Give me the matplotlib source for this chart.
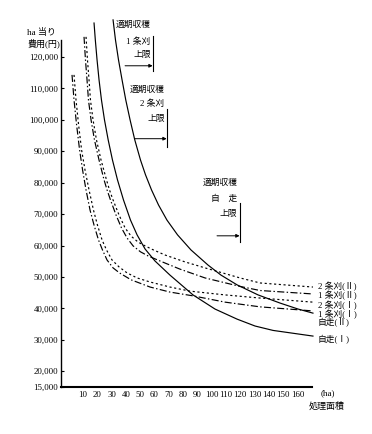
import matplotlib
matplotlib.use("Agg")
import matplotlib.pyplot as plt

# ---- data ----
ha_jisou1 = [17.7, 18.6, 19.8, 21.2, 22.9, 25.0, 27.6, 30.6, 34.1, 38.3, 43.2, 47.8, 53.4, 60.3,
             70.8, 86.9, 102.3, 117.7, 130.3, 142.9, 170.8]
cost_jisou1 = [130800, 125400, 119100, 112700, 106300, 100000, 93600, 87200, 80900, 74500, 68100,
               63400, 58900, 55100, 50600, 44300, 39800, 36600, 34400, 33000, 31200]

ha_jisou2 = [31.0, 32.7, 34.8, 37.3, 39.9, 42.9, 46.2, 50.2, 53.7, 57.9, 62.8, 68.7, 76.1, 85.5,
             97.4, 106.5, 117.7, 132.4, 147.8, 160.4, 170.8]
cost_jisou2 = [131800, 125400, 119100, 112700, 106300, 100000, 93600, 87200, 82500, 77700, 72900,
               68100, 63400, 58600, 53800, 50600, 47500, 44300, 41700, 39800, 38500]

ha_1jo1 = [2.3, 3.7, 5.5, 7.6, 9.7, 12.1, 14.9, 17.7, 20.8, 23.6, 26.8, 31.0, 35.5, 43.6, 56.9,
           70.8, 86.9, 109.3, 133.8, 170.8]
cost_1jo1 = [114300, 106300, 98400, 90400, 84000, 77700, 71300, 66500, 61800, 58600, 55400, 52900,
             51300, 49100, 46800, 45200, 44000, 42000, 40500, 39200]

ha_2jo1 = [3.7, 5.1, 6.9, 9.0, 11.4, 14.2, 17.3, 20.1, 23.3, 26.4, 30.3, 35.2, 40.8, 47.8, 56.9,
           70.8, 84.8, 109.3, 133.8, 170.8]
cost_2jo1 = [114300, 106300, 98400, 90400, 84000, 77700, 71300, 66500, 61800, 58600, 55400, 53200,
             51300, 49700, 48400, 46800, 45500, 44300, 43300, 42000]

ha_1jo2 = [10.7, 11.7, 12.8, 13.8, 15.6, 18.0, 21.2, 24.7, 26.8, 29.2, 33.1, 36.9, 40.8, 45.0,
           50.2, 55.5, 63.8, 77.8, 95.3, 119.8, 133.8, 170.8]
cost_1jo2 = [126400, 119100, 112700, 106300, 100000, 93600, 87200, 80900, 77700, 74500, 69700,
             65600, 62400, 59900, 58000, 56700, 55100, 52500, 49700, 47000, 45700, 44600]

ha_2jo2 = [12.1, 13.1, 14.2, 15.2, 17.0, 19.4, 22.6, 26.4, 28.5, 31.0, 35.2, 39.4, 43.6, 48.5,
           53.4, 58.3, 67.3, 81.3, 95.3, 119.8, 133.8, 170.8]
cost_2jo2 = [126400, 119100, 112700, 106300, 100000, 93600, 87200, 80900, 77700, 74500, 69700,
             65600, 63000, 61100, 59900, 58800, 57000, 54800, 52900, 49700, 48100, 46800]

series_labels = ["2 条刈(Ⅱ)", "1 条刈(Ⅱ)", "2 条刈(Ⅰ)", "1 条刈(Ⅰ)", "自走(Ⅱ)", "自走(Ⅰ)"]
label_y = [46900, 44100, 40900, 38200, 35600, 30000]

x_ticks = list(range(10, 170, 10))
y_ticks = [15000, 20000, 30000, 40000, 50000, 60000, 70000, 80000, 90000, 100000, 110000, 120000]
y_ticklabels = ["15,000", "20,000", "30,000", "40,000", "50,000", "60,000", "70,000",
                "80,000", "90,000", "100,000", "110,000", "120,000"]

FAM = ["Liberation Serif", "Noto Sans CJK JP", "DejaVu Sans"]
plt.rcParams["font.family"] = FAM

fig = plt.figure(figsize=(3.72, 4.34), dpi=100)
ax = fig.add_axes([0.1640, 0.1083, 0.7511, 0.8763])
ax.set_xlim(-5.4, 190)
ax.set_ylim(15000, 136000)

DASHDOT = (0, (6, 2, 1.2, 2))
DOTTED = (0, (1.8, 2.2))
lw = 0.85
ax.plot(ha_jisou1, cost_jisou1, color="black", lw=lw, ls="-", clip_on=False)
ax.plot(ha_jisou2, cost_jisou2, color="black", lw=lw, ls="-", clip_on=False)
ax.plot(ha_1jo1, cost_1jo1, color="black", lw=lw, ls=DASHDOT, clip_on=False)
ax.plot(ha_2jo1, cost_2jo1, color="black", lw=lw, ls=DOTTED, clip_on=False)
ax.plot(ha_1jo2, cost_1jo2, color="black", lw=lw, ls=DASHDOT, clip_on=False)
ax.plot(ha_2jo2, cost_2jo2, color="black", lw=lw, ls=DOTTED, clip_on=False)

for lab, yv in zip(series_labels, label_y):
    ax.text(174.0, yv, lab, fontsize=6.3, ha="left", va="center", family=FAM, clip_on=False)

# axes styling
for s in ("top", "right"):
    ax.spines[s].set_visible(False)
ax.spines["left"].set_bounds(15000, 125400)
ax.spines["left"].set_linewidth(1.0)
ax.spines["bottom"].set_bounds(-5.4, 170)
ax.spines["bottom"].set_linewidth(1.5)

ax.set_xticks(x_ticks)
ax.set_xticklabels([str(t) for t in x_ticks])
ax.set_yticks(y_ticks)
ax.set_yticklabels(y_ticklabels)
ax.tick_params(axis="x", length=0, pad=3, labelsize=6.3)
ax.tick_params(axis="y", length=2, direction="in", pad=2, labelsize=6.3)

# axis titles
ax.text(-9.0, 127700, "ha 当り", fontsize=6.5, ha="right", va="center", family=FAM, clip_on=False)
ax.text(-5.8, 124500, "費用(円)", fontsize=6.5, ha="right", va="center", family=FAM, clip_on=False)
ax.text(176.0, 13000, "(ha)", fontsize=6.5, ha="left", va="center", family=FAM, clip_on=False)
ax.text(193.0, 8800, "処理面積", fontsize=6.5, ha="right", va="center", family=FAM, clip_on=False)

# upper-limit annotations
def block(title, sub, x_bar, y_title, y_sub, y_lim, y_bar_top, y_bar_bot, y_arrow, x_arrow0):
    ax.text(x_bar - 1.8, y_title, title, fontsize=6.3, ha="right", va="center", family=FAM)
    ax.text(x_bar - 1.8, y_sub, sub, fontsize=6.3, ha="right", va="center", family=FAM)
    ax.text(x_bar - 1.8, y_lim, "上限", fontsize=6.3, ha="right", va="center", family=FAM)
    ax.plot([x_bar, x_bar], [y_bar_bot, y_bar_top], color="black", lw=0.8)
    ax.annotate("", xy=(x_bar - 0.3, y_arrow), xytext=(x_arrow0, y_arrow),
                arrowprops=dict(arrowstyle="-|>", color="black", lw=0.7,
                                mutation_scale=5, shrinkA=0, shrinkB=0))

block("適期収穫", "1 条刈", 59.0, 130100, 125000, 120500, 126700, 115600, 117200, 39.4)
block("適期収穫", "2 条刈", 68.8, 109600, 105100, 100400, 103300, 91500, 94000, 46.4)
block("適期収穫", "自　走", 119.8, 79900, 74800, 70000, 73600, 61100, 63100, 103.7)

fig.savefig("out.png", dpi=100)
